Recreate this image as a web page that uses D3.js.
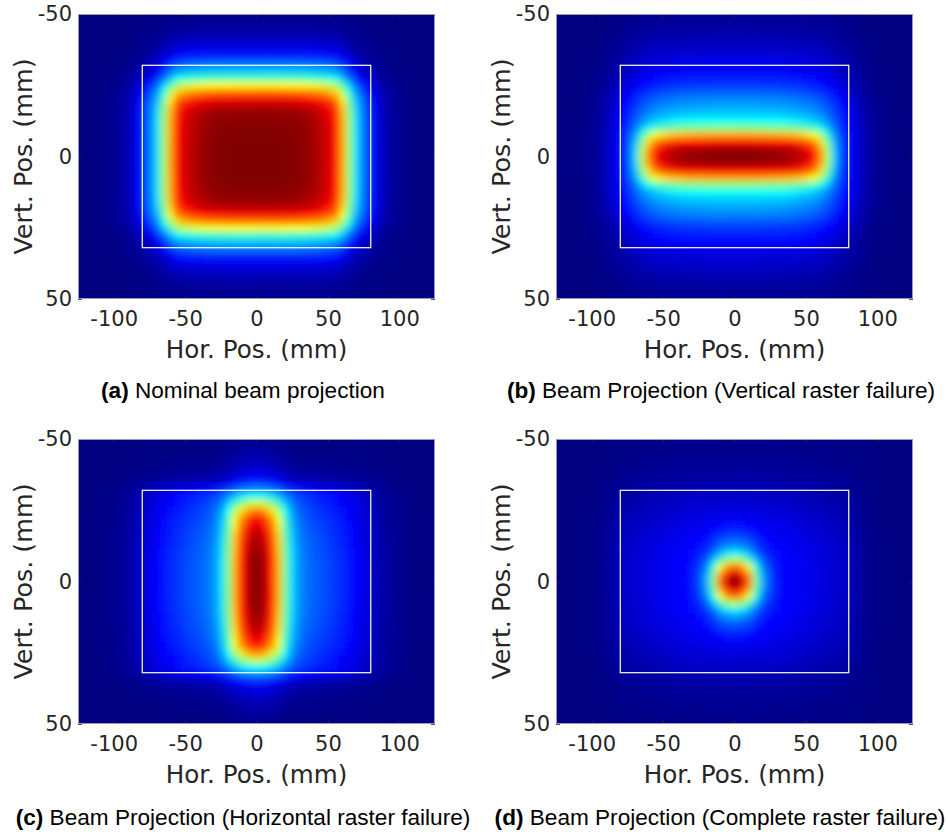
<!DOCTYPE html>
<html><head><meta charset="utf-8">
<script src="https://cdn.jsdelivr.net/npm/d3@7"></script>
<style>body{margin:0;background:#fff}</style>
</head><body>
<svg id="chart" width="948" height="836"></svg>
<script>
// ---------------- DATA ----------------
// sample offsets from the beam centre (mm); profiles are symmetric about 0
const xOffsetsMm = [0,5,10,15,20,25,30,35,40,45,50,55,60,65,70,75,80,85,90,95,100,105,110,115,120,125];
const yOffsetsMm = [0,2.5,5,7.5,10,12.5,15,17.5,20,22.5,25,27.5,30,32.5,35,37.5,40,42.5,45,47.5,50];

const xTicks = [-100,-50,0,50,100];
const yTicks = [-50,0,50];
const xDomainMm = [-125,125];
const yDomainMm = [-50,50];
const apertureX = [-80,80];
const apertureY = [-32,32];

const captionTags = ["(a)","(b)","(c)","(d)"];
const captionTexts = ["Nominal beam projection",
  "Beam Projection (Vertical raster failure)",
  "Beam Projection (Horizontal raster failure)",
  "Beam Projection (Complete raster failure)"];
const xAxisTitle = "Hor. Pos. (mm)";
const yAxisTitle = "Vert. Pos. (mm)";

// (a) nominal
const coreX_a = [1,1,1,1,0.998,0.995,0.99,0.98,0.965,0.945,0.915,0.865,0.72,0.52,0.34,0.24,0.16,0.1,0.05,0.03,0.02,0.01,0.005,0,0,0];
const coreY_a = [1,1,1,0.998,0.995,0.99,0.98,0.95,0.89,0.78,0.63,0.44,0.32,0.24,0.16,0.11,0.075,0.05,0.03,0.02,0.01];
const haloX_a = [0,0,0,0,0,0,0,0,0,0,0,0,0,0,0,0,0,0,0,0,0,0,0,0,0,0];
const haloY_a = [0,0,0,0,0,0,0,0,0,0,0,0,0,0,0,0,0,0,0,0,0];
// (b) vertical raster failure
const coreX_b = [1,1,1,1,0.998,0.995,0.99,0.985,0.975,0.96,0.93,0.87,0.72,0.45,0.16,0.03,0,0,0,0,0,0,0,0,0,0];
const coreY_b = [0.64,0.61,0.525,0.37,0.16,0.05,0.02,0,0,0,0,0,0,0,0,0,0,0,0,0,0];
const haloX_b = [1,1,1,1,0.99,0.985,0.98,0.97,0.955,0.93,0.9,0.86,0.8,0.72,0.61,0.49,0.38,0.27,0.16,0.09,0.05,0.03,0.015,0.01,0.005,0];
const haloY_b = [0.36,0.36,0.355,0.35,0.34,0.33,0.31,0.29,0.26,0.22,0.18,0.155,0.13,0.11,0.09,0.075,0.06,0.045,0.035,0.025,0.02];
// (c) horizontal raster failure
const coreX_c = [1,0.94,0.8,0.6,0.3,0.1,0.02,0,0,0,0,0,0,0,0,0,0,0,0,0,0,0,0,0,0,0];
const coreY_c = [0.7,0.7,0.699,0.697,0.693,0.687,0.677,0.66,0.635,0.595,0.5,0.35,0.17,0.1,0.08,0.065,0.055,0.04,0.03,0.02,0.01];
const haloX_c = [1,1,0.99,0.97,0.94,0.9,0.85,0.8,0.74,0.7,0.65,0.6,0.55,0.49,0.42,0.34,0.26,0.18,0.12,0.08,0.05,0.03,0.02,0.01,0.005,0];
const haloY_c = [0.3,0.3,0.3,0.298,0.295,0.29,0.285,0.278,0.27,0.26,0.25,0.235,0.22,0.16,0.08,0.04,0.025,0.015,0.01,0.005,0];
// (d) complete raster failure
const coreX_d = [1,0.93,0.74,0.42,0.18,0.07,0.02,0,0,0,0,0,0,0,0,0,0,0,0,0,0,0,0,0,0,0];
const coreY_d = [0.86,0.79,0.64,0.42,0.23,0.14,0.09,0.05,0.025,0.012,0.005,0,0,0,0,0,0,0,0,0,0];
const haloX_d = [1,1,1,0.99,0.98,0.97,0.95,0.92,0.88,0.83,0.78,0.73,0.68,0.63,0.58,0.52,0.45,0.3,0.18,0.1,0.05,0.03,0.02,0.01,0.005,0];
const haloY_d = [0.14,0.14,0.14,0.138,0.135,0.13,0.125,0.118,0.11,0.1,0.09,0.08,0.07,0.055,0.04,0.032,0.025,0.02,0.015,0.012,0.01];

// ---------------- LAYOUT ----------------
const series = [
  {coreX: coreX_a, coreY: coreY_a, haloX: haloX_a, haloY: haloY_a},
  {coreX: coreX_b, coreY: coreY_b, haloX: haloX_b, haloY: haloY_b},
  {coreX: coreX_c, coreY: coreY_c, haloX: haloX_c, haloY: haloY_c},
  {coreX: coreX_d, coreY: coreY_d, haloX: haloX_d, haloY: haloY_d}
];
const plotLeft = [78, 556, 78, 556];
const plotTop = [14, 14, 439, 439];
const plotW = 357, plotH = 285;
const capX = [243, 721, 243, 720];
const capY = [398, 398, 825, 825];

const jet = d3.scaleLinear()
  .domain([0, 0.125, 0.375, 0.625, 0.875, 1])
  .range(["#000080", "#0000ff", "#00ffff", "#ffff00", "#ff0000", "#800000"])
  .interpolate(d3.interpolateRgb)
  .clamp(true);

const svg = d3.select("#chart");
const defs = svg.append("defs");
defs.append("filter").attr("id", "smooth")
  .attr("x", "-5%").attr("y", "-5%").attr("width", "110%").attr("height", "110%")
  .append("feGaussianBlur").attr("stdDeviation", 3.6);

const tickFont = "'DejaVu Sans', sans-serif";
const tickColor = "#262626";

series.forEach((s, k) => {
  const g = svg.append("g").attr("transform", `translate(${plotLeft[k]},${plotTop[k]})`);
  const x = d3.scaleLinear().domain(xDomainMm).range([0, plotW]);
  const y = d3.scaleLinear().domain(yDomainMm).range([0, plotH]);

  const clipId = "clip" + k;
  defs.append("clipPath").attr("id", clipId)
    .append("rect").attr("width", plotW).attr("height", plotH);

  // build cells from the profile samples
  const cells = [];
  const nx = xOffsetsMm.length, ny = yOffsetsMm.length;
  for (let i = -(nx - 1); i <= nx - 1; i++) {
    const ai = Math.abs(i);
    const xc = Math.sign(i) * xOffsetsMm[ai];
    for (let j = -(ny - 1); j <= ny - 1; j++) {
      const aj = Math.abs(j);
      const yc = Math.sign(j) * yOffsetsMm[aj];
      const v = s.coreX[ai] * s.coreY[aj] + s.haloX[ai] * s.haloY[aj];
      cells.push({xc, yc, v: Math.min(1, v)});
    }
  }
  const dx = xOffsetsMm[1] - xOffsetsMm[0];
  const dy = yOffsetsMm[1] - yOffsetsMm[0];

  const clipped = g.append("g").attr("clip-path", `url(#${clipId})`);
  clipped.append("rect").attr("width", plotW).attr("height", plotH).attr("fill", jet(0));
  clipped.append("g").attr("filter", "url(#smooth)")
    .selectAll("rect").data(cells).join("rect")
    .attr("x", d => x(d.xc - dx / 2))
    .attr("y", d => y(d.yc - dy / 2))
    .attr("width", x(dx) - x(0) + 0.6)
    .attr("height", y(dy) - y(0) + 0.6)
    .attr("fill", d => jet(d.v));

  // aperture rectangle
  g.append("rect")
    .attr("x", x(apertureX[0])).attr("y", y(apertureY[0]))
    .attr("width", x(apertureX[1]) - x(apertureX[0]))
    .attr("height", y(apertureY[1]) - y(apertureY[0]))
    .attr("fill", "none").attr("stroke", "#ffffff").attr("stroke-width", 1.2);

  // axes
  const fmt = d => String(d);
  const axB = g.append("g").attr("transform", `translate(0,${plotH})`)
    .call(d3.axisBottom(x).tickValues(xTicks).tickSize(-4).tickPadding(12).tickFormat(fmt));
  const axT = g.append("g")
    .call(d3.axisTop(x).tickValues(xTicks).tickSize(-4).tickFormat(""));
  const axL = g.append("g")
    .call(d3.axisLeft(y).tickValues(yTicks).tickSize(-4).tickPadding(6).tickFormat(fmt));
  const axR = g.append("g").attr("transform", `translate(${plotW},0)`)
    .call(d3.axisRight(y).tickValues(yTicks).tickSize(-4).tickFormat(""));
  [axB, axT, axL, axR].forEach(a => {
    a.select(".domain").remove();
    a.attr("font-family", tickFont).attr("font-size", 21);
    a.selectAll("line").attr("stroke", tickColor).attr("stroke-width", 0.8);
    a.selectAll("text").attr("fill", tickColor);
  });

  // plot frame
  g.append("rect").attr("x", 0.5).attr("y", 0.5)
    .attr("width", plotW - 1).attr("height", plotH - 1)
    .attr("fill", "none").attr("stroke", "#9898bc").attr("stroke-width", 1);

  // axis titles
  g.append("text")
    .attr("x", plotW / 2).attr("y", plotH + 59)
    .attr("text-anchor", "middle")
    .attr("font-family", tickFont).attr("font-size", 24.6).attr("fill", tickColor)
    .text(xAxisTitle);
  g.append("text")
    .attr("transform", `translate(-46.5,${plotH / 2}) rotate(-90)`)
    .attr("text-anchor", "middle")
    .attr("font-family", tickFont).attr("font-size", 25.4).attr("fill", tickColor)
    .text(yAxisTitle);

  // caption
  const cap = svg.append("text")
    .attr("x", capX[k]).attr("y", capY[k])
    .attr("text-anchor", "middle")
    .attr("font-family", "'Liberation Sans', Arial, sans-serif")
    .attr("font-size", 22.6).attr("fill", "#000");
  cap.append("tspan").attr("font-weight", "bold").text(captionTags[k]);
  cap.append("tspan").text(" " + captionTexts[k]);
});
</script>
</body></html>
